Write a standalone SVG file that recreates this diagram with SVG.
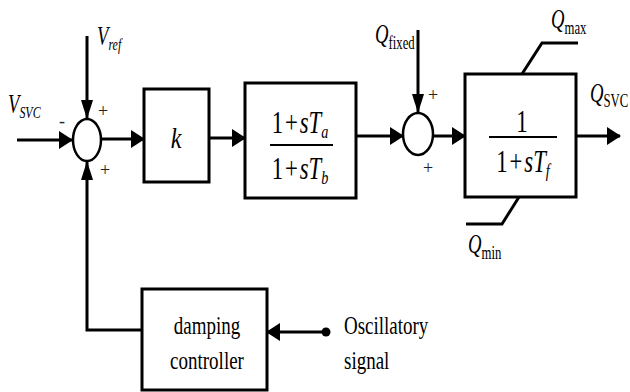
<svg xmlns="http://www.w3.org/2000/svg" width="630" height="392" viewBox="0 0 630 392">
<style>
.ln{stroke:#000;stroke-width:3;fill:none}
.bx{stroke:#000;stroke-width:3;fill:#fff}
.sum{stroke:#000;stroke-width:2.5;fill:#fff}
.t{font-family:"Liberation Serif","Times New Roman",serif;fill:#000}
.i{font-style:italic}
.sg{font-family:"Liberation Serif",serif;font-size:18px;fill:#222}
</style>
<defs>
<marker id="ah" markerUnits="userSpaceOnUse" markerWidth="14" markerHeight="18" refX="13" refY="9" orient="auto">
<path d="M0,0 L14,9 L0,18 Z" fill="#000"/>
</marker>
<marker id="av" markerUnits="userSpaceOnUse" markerWidth="19" markerHeight="12" refX="18" refY="6" orient="auto">
<path d="M0,0 L19,6 L0,12 Z" fill="#000"/>
</marker>
</defs>
<g id="connectors">
<line class="ln" x1="17" y1="140" x2="72" y2="140" marker-end="url(#ah)"/>
<line class="ln" x1="87" y1="36" x2="87" y2="118" marker-end="url(#av)"/>
<polyline class="ln" points="142,330 87,330 87,162" marker-end="url(#av)"/>
<line class="ln" x1="101" y1="139" x2="144" y2="139" marker-end="url(#ah)"/>
<line class="ln" x1="209" y1="138" x2="245" y2="138" marker-end="url(#ah)"/>
<line class="ln" x1="356" y1="136" x2="403" y2="136" marker-end="url(#ah)"/>
<line class="ln" x1="418" y1="30" x2="418" y2="112" marker-end="url(#av)"/>
<line class="ln" x1="433" y1="136" x2="465" y2="136" marker-end="url(#ah)"/>
<line class="ln" x1="576" y1="136" x2="620" y2="136" marker-end="url(#ah)"/>
<polyline class="ln" points="522,74 542,43 578,43"/>
<polyline class="ln" points="519,197 502,224 466,224"/>
<line class="ln" x1="326" y1="332" x2="267" y2="332" marker-end="url(#ah)"/>
<circle cx="326" cy="332" r="4.5" fill="#000"/>
</g>
<g id="sum1">
<ellipse class="sum" cx="87" cy="140" rx="14" ry="21"/>
<text class="sg" x="98" y="117">+</text>
<text class="sg" x="100" y="176">+</text>
<text class="sg" x="59" y="127">-</text>
</g>
<g id="vsvc">
<text class="t i" transform="translate(8,113) scale(0.85,1.25)" font-size="22">V<tspan font-size="14" dy="4">SVC</tspan></text>
</g>
<g id="vref">
<text class="t i" transform="translate(97,45) scale(0.85,1.25)" font-size="22">V<tspan font-size="14" dy="4">ref</tspan></text>
</g>
<g id="k">
<rect class="bx" x="144" y="89" width="65" height="93"/>
<text class="t i" transform="translate(176,148) scale(1,1.25)" font-size="24" text-anchor="middle">k</text>
</g>
<g id="leadlag">
<rect class="bx" x="245" y="83" width="111" height="115"/>
<text class="t" transform="translate(300,133) scale(0.95,1.3)" font-size="24" text-anchor="middle">1<tspan dx="2">+</tspan><tspan dx="2" font-style="italic">sT</tspan><tspan font-style="italic" font-size="15" dy="4">a</tspan></text>
<line x1="270" y1="145" x2="333" y2="145" stroke="#000" stroke-width="2"/>
<text class="t" transform="translate(300,179) scale(0.95,1.3)" font-size="24" text-anchor="middle">1<tspan dx="2">+</tspan><tspan dx="2" font-style="italic">sT</tspan><tspan font-style="italic" font-size="15" dy="4">b</tspan></text>
</g>
<g id="sum2">
<ellipse class="sum" cx="418" cy="134" rx="15" ry="21"/>
<text class="sg" x="428" y="101">+</text>
<text class="sg" x="423" y="174">+</text>
</g>
<g id="qfixed">
<text class="t i" transform="translate(375,43) scale(0.85,1.25)" font-size="22">Q<tspan font-style="normal" font-size="15" dy="5">fixed</tspan></text>
</g>
<g id="limiter">
<rect class="bx" x="465" y="74" width="111" height="123"/>
<text class="t" transform="translate(522,132) scale(0.95,1.3)" font-size="24" text-anchor="middle">1</text>
<line x1="489" y1="137" x2="557" y2="137" stroke="#000" stroke-width="2"/>
<text class="t" transform="translate(523,172) scale(0.95,1.3)" font-size="24" text-anchor="middle">1<tspan dx="2">+</tspan><tspan dx="2" font-style="italic">sT</tspan><tspan font-style="italic" font-size="15" dy="4">f</tspan></text>
</g>
<g id="qmax">
<text class="t i" transform="translate(551,28) scale(0.85,1.25)" font-size="22">Q<tspan font-style="normal" font-size="15" dy="5">max</tspan></text>
</g>
<g id="qmin">
<text class="t i" transform="translate(468,253) scale(0.85,1.25)" font-size="22">Q<tspan font-style="normal" font-size="15" dy="5">min</tspan></text>
</g>
<g id="qsvc">
<text class="t i" transform="translate(590,102) scale(0.85,1.25)" font-size="22">Q<tspan font-style="normal" font-size="15" dy="4">SVC</tspan></text>
</g>
<g id="damping">
<rect class="bx" x="142" y="289" width="125" height="101"/>
<text class="t" transform="translate(207,334) scale(0.95,1.25)" font-size="20" text-anchor="middle">damping</text>
<text class="t" transform="translate(207,369) scale(0.95,1.25)" font-size="20" text-anchor="middle">controller</text>
</g>
<g id="osc">
<text class="t" transform="translate(344,334) scale(0.95,1.25)" font-size="20">Oscillatory</text>
<text class="t" transform="translate(344,369) scale(0.95,1.25)" font-size="20">signal</text>
</g>
</svg>
